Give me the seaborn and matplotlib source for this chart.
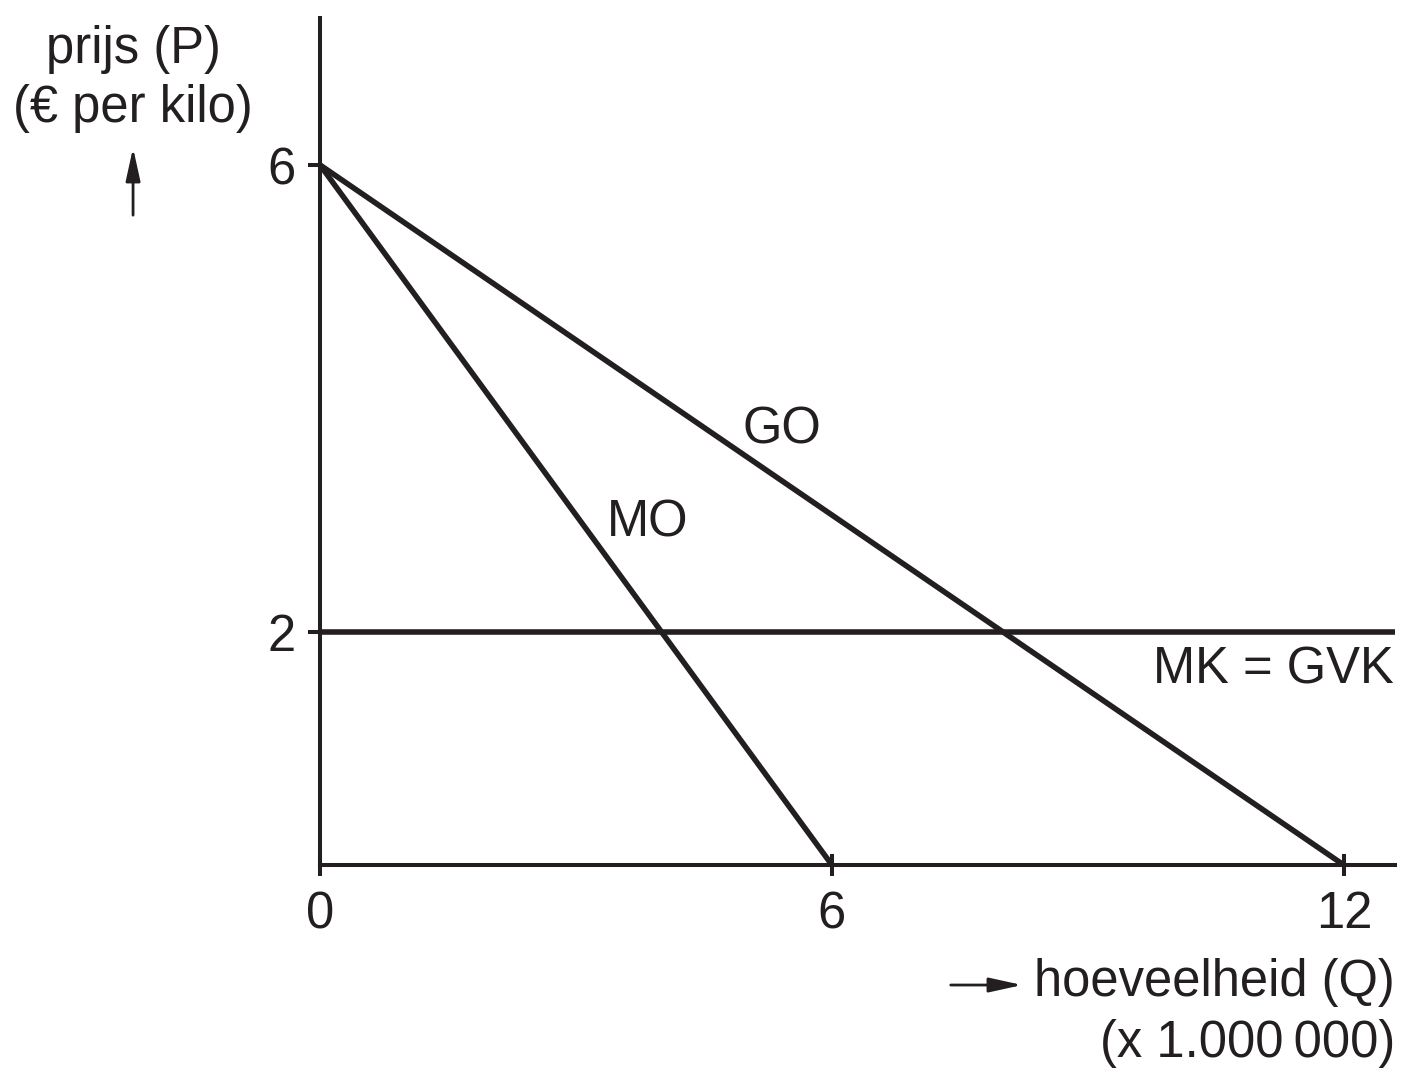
import numpy as np
import pandas as pd
import matplotlib
matplotlib.use('Agg')
import matplotlib.pyplot as plt
import seaborn as sns

# Data
go_q = [0, 12]
go_p = [6, 0]
mo_q = [0, 6]
mo_p = [6, 0]
mk_q = [0, 12.6]
mk_p = [2, 2]
x_ticks = [0, 6, 12]
y_ticks = [2, 6]

sns.set_style('ticks')
plt.rcParams['font.family'] = ['Liberation Sans', 'DejaVu Sans']

df = pd.concat([
    pd.DataFrame({'Q': go_q, 'P': go_p, 'curve': 'GO'}),
    pd.DataFrame({'Q': mo_q, 'P': mo_p, 'curve': 'MO'}),
    pd.DataFrame({'Q': mk_q, 'P': mk_p, 'curve': 'MK'}),
])

fig = plt.figure(figsize=(14.05, 10.79), dpi=100)
ax = fig.add_axes([0.2278, 0.1983, 0.9929 - 0.2278, 0.9833 - 0.1983])

sns.lineplot(data=df, x='Q', y='P', units='curve', estimator=None,
             color='#231f20', linewidth=4, legend=False, ax=ax, sort=False)

ax.set_xlim(0, 12.6)
ax.set_ylim(0, 7.26)
sns.despine(ax=ax)
for s in ['left', 'bottom']:
    ax.spines[s].set_linewidth(2.9)
    ax.spines[s].set_color('#231f20')

ax.set_xticks(x_ticks)
ax.set_xticklabels([str(v) for v in x_ticks])
ax.set_yticks(y_ticks)
ax.set_yticklabels([str(v) for v in y_ticks])
ax.tick_params(axis='x', direction='inout', length=16, width=2.9, pad=10,
               labelsize=36.5, colors='#231f20')
ax.tick_params(axis='y', direction='out', length=8.5, width=2.9, pad=9,
               labelsize=36.5, colors='#231f20')
ax.set_xlabel('')
ax.set_ylabel('')

txt = dict(fontsize=36.5, color='#231f20')
ax.text(5.41, 3.73, 'GO', ha='center', va='center', **txt)
ax.text(3.84, 2.93, 'MO', ha='center', va='center', **txt)
ax.text(12.58, 1.67, 'MK = GVK', ha='right', va='center', **txt)

# axis titles with arrows
fig.text(0.0947, 0.9545, 'prijs (P)', ha='center', va='center', **txt)
fig.text(0.0947, 0.8995, '(€ per kilo)', ha='center', va='center', **txt)
fig.add_artist(matplotlib.patches.FancyArrowPatch(
    (0.0947, 0.798), (0.0947, 0.8656), transform=fig.transFigure,
    arrowstyle='-|>,head_length=1.0,head_width=0.22', mutation_scale=20,
    linewidth=2, color='#231f20'))

fig.text(0.9929, 0.0895, 'hoeveelheid (Q)', ha='right', va='center', **txt)
fig.text(0.9929, 0.0330, '(x 1.000\u2009000)', ha='right', va='center', **txt)
fig.add_artist(matplotlib.patches.FancyArrowPatch(
    (0.6747, 0.0871), (0.7295, 0.0871), transform=fig.transFigure,
    arrowstyle='-|>,head_length=1.0,head_width=0.22', mutation_scale=20,
    linewidth=2, color='#231f20'))

fig.savefig('out.png', dpi=100)
